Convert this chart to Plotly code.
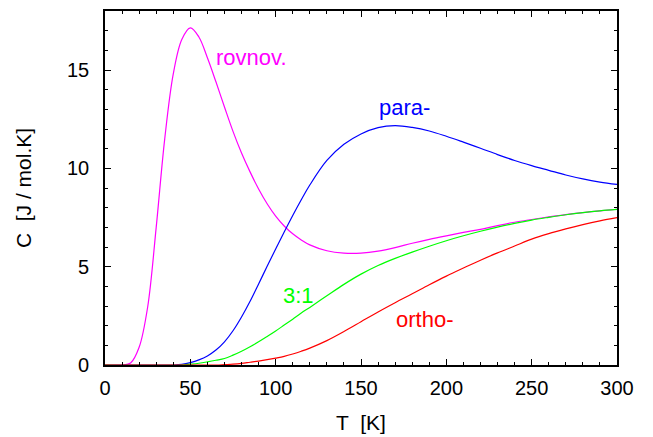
import plotly.graph_objects as go

# Values (T in K, C in J/mol.K)
T_rovnov = [0, 10, 15, 20, 25, 30, 35, 40, 45, 50, 55, 60, 65, 70, 75, 80, 85, 90, 95, 100,
            105, 110, 115, 120, 130, 140, 150, 160, 170, 180, 190, 200, 210, 220, 230, 240,
            250, 260, 270, 280, 290, 300]
C_rovnov = [0, 0, 0.1, 0.9, 2.95, 7.0, 11.5, 14.8, 16.55, 17.14, 16.68, 15.62, 14.4, 13.12,
            11.88, 10.78, 9.82, 8.95, 8.2, 7.57, 7.07, 6.67, 6.36, 6.11, 5.81, 5.69, 5.69,
            5.79, 5.97, 6.19, 6.39, 6.57, 6.74, 6.9, 7.09, 7.26, 7.4, 7.53, 7.65, 7.75, 7.84, 7.92]

T_para = [0, 40, 45, 50, 55, 60, 65, 70, 75, 80, 85, 90, 95, 100, 105, 110, 115, 120, 130,
          140, 150, 160, 170, 180, 190, 200, 210, 220, 230, 240, 250, 260, 270, 280, 290, 300]
C_para = [0, 0, 0.03, 0.12, 0.26, 0.46, 0.76, 1.18, 1.74, 2.44, 3.24, 4.12, 5.02, 5.9, 6.76,
          7.6, 8.4, 9.15, 10.4, 11.22, 11.75, 12.07, 12.17, 12.08, 11.9, 11.63, 11.33, 11.02,
          10.7, 10.4, 10.14, 9.9, 9.66, 9.46, 9.3, 9.18]

T_31 = [0, 45, 50, 55, 60, 65, 70, 75, 80, 85, 90, 95, 100, 105, 110, 115, 120, 130, 140,
        150, 160, 170, 180, 190, 200, 210, 220, 230, 240, 250, 260, 270, 280, 290, 300]
C_31 = [0, 0, 0.04, 0.09, 0.16, 0.24, 0.33, 0.5, 0.7, 0.93, 1.18, 1.45, 1.73, 2.03, 2.33,
        2.64, 2.93, 3.52, 4.1, 4.62, 5.06, 5.42, 5.74, 6.04, 6.32, 6.57, 6.8, 7.01, 7.2,
        7.37, 7.51, 7.64, 7.75, 7.84, 7.91]

T_ortho = [0, 65, 70, 75, 80, 85, 90, 95, 100, 105, 110, 115, 120, 130, 140, 150, 160, 170,
           180, 190, 200, 210, 220, 230, 240, 250, 260, 270, 280, 290, 300]
C_ortho = [0, 0, 0.02, 0.04, 0.08, 0.14, 0.2, 0.27, 0.35, 0.44, 0.56, 0.7, 0.86, 1.24, 1.7,
           2.2, 2.7, 3.17, 3.62, 4.08, 4.52, 4.93, 5.33, 5.7, 6.05, 6.4, 6.68, 6.92, 7.14,
           7.33, 7.49]

labels = ["rovnov.", "para-", "3:1", "ortho-"]
label_T = [86.1, 175.2, 113.4, 187]
label_C = [15.65, 13.1, 3.55, 2.3]
colors = ["#ff00ff", "#0000ff", "#00ff00", "#ff0000"]

FONT = "Liberation Sans, Arial, Helvetica, sans-serif"

fig = go.Figure()
series = [(T_rovnov, C_rovnov), (T_para, C_para), (T_31, C_31), (T_ortho, C_ortho)]
for (tx, cy), col in zip(series, colors):
    fig.add_trace(go.Scatter(x=tx, y=cy, mode="lines",
                             line=dict(color=col, width=1.2, shape="spline", smoothing=1.0),
                             showlegend=False, hoverinfo="skip"))

for txt, tx, cy, col in zip(labels, label_T, label_C, colors):
    fig.add_annotation(x=tx, y=cy, text=txt, showarrow=False,
                       font=dict(family=FONT, size=22, color=col),
                       xanchor="center", yanchor="middle")

axis_common = dict(showline=True, linecolor="black", linewidth=1.6, mirror="allticks",
                   ticks="inside", ticklen=6, tickwidth=1, tickcolor="black",
                   showgrid=False, zeroline=False,
                   tickfont=dict(family=FONT, size=20, color="black"))

fig.update_xaxes(range=[0, 300], dtick=50, tick0=0,
                 minor=dict(dtick=10, ticks="inside", ticklen=3, tickcolor="black", showgrid=False),
                 ticklabelstandoff=4,
                 title=dict(text="T  [K]", font=dict(family=FONT, size=21, color="black"), standoff=18),
                 **axis_common)
fig.update_yaxes(range=[0, 18], dtick=5, tick0=0,
                 minor=dict(dtick=1, ticks="inside", ticklen=3, tickcolor="black", showgrid=False),
                 ticklabelstandoff=10,
                 title=dict(text="C  [J / mol.K]", font=dict(family=FONT, size=21, color="black"), standoff=30),
                 **axis_common)

# page body has an 8px default margin, so the figure is sized to fit the window
fig.update_layout(width=645, height=429, autosize=False,
                  margin=dict(l=97, r=36, t=1, b=72),
                  paper_bgcolor="white", plot_bgcolor="white",
                  font=dict(family=FONT, color="black"))

fig.write_html("out.html")
